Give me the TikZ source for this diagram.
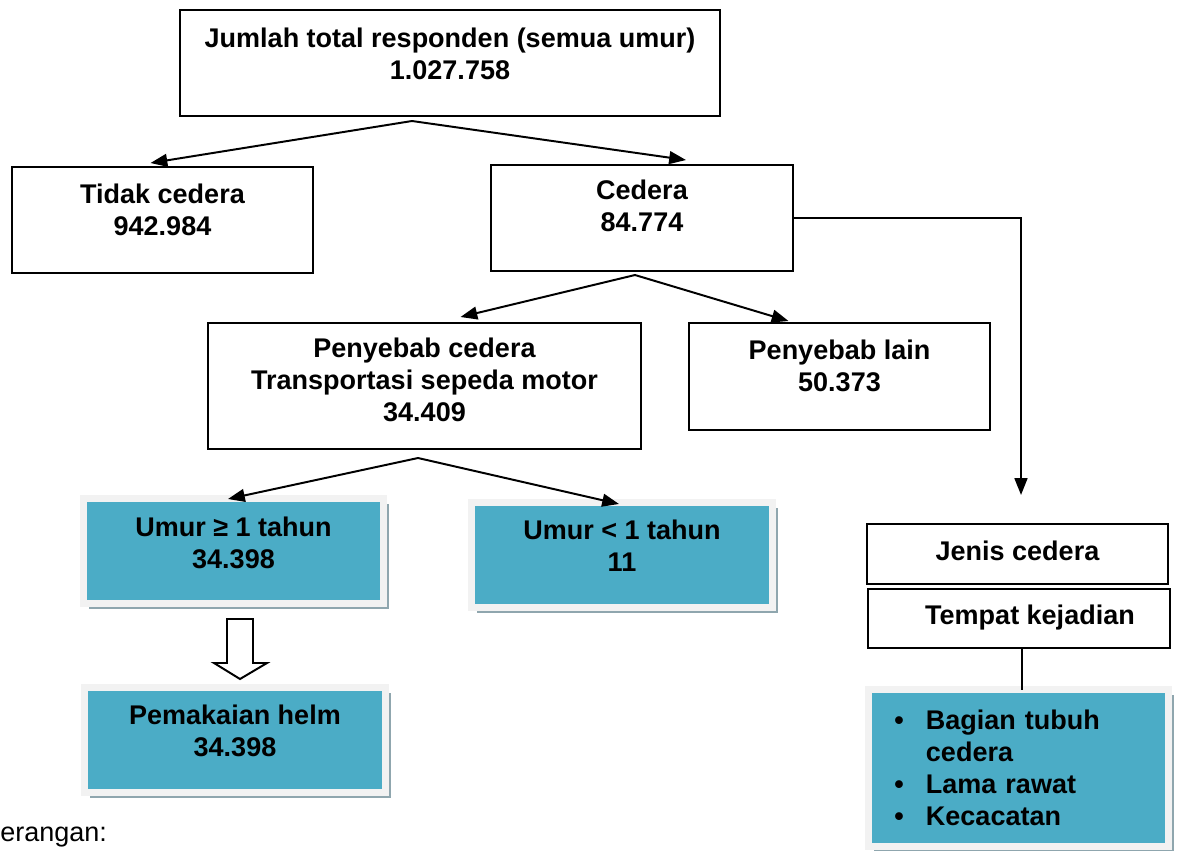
\documentclass[tikz,border=0pt]{standalone}
\usepackage{fontspec}
\setmainfont{Liberation Sans}
\usetikzlibrary{arrows.meta,shadows}
\definecolor{tealfill}{HTML}{4BACC6}
\definecolor{framegray}{HTML}{F2F2F2}
\definecolor{shadowgray}{HTML}{8FA6AE}
\newcommand{\bul}{\makebox[1.35cm][c]{•}}
\begin{document}
\begin{tikzpicture}[x=0.025cm,y=-0.025cm,
    box/.style={draw,line width=1.4pt,fill=white,align=center,inner sep=0pt,
        font=\fontsize{19.2}{22.8}\selectfont\bfseries,
        minimum width=7.525cm,minimum height=2.65cm},
    tealbox/.style={box,fill=tealfill,draw=framegray,line width=0.175cm,
        minimum width=7.5cm,minimum height=2.625cm,
        general shadow={shadow xshift=0.14cm,shadow yshift=-0.14cm,fill=shadowgray}},
    arr/.style={-{Triangle[length=0.42cm,width=0.32cm]},line width=1.4pt}
]
\useasboundingbox (0,0) rectangle (1177,850);

\node[box,minimum width=13.5cm,text depth=0.45cm] (total) at (450,63) {Jumlah total responden (semua umur)\\1.027.758};
\node[box,text depth=0.5cm] (tidak) at (162.5,220) {Tidak cedera\\942.984};
\node[box,minimum width=7.55cm,text depth=0.6cm] (cedera) at (642,218) {Cedera\\84.774};
\node[box,minimum width=10.825cm,minimum height=3.15cm,text depth=0.3cm] (motor) at (424.5,386) {Penyebab cedera\\Transportasi sepeda motor\\34.409};
\node[box,minimum height=2.675cm,text depth=0.525cm] (lain) at (839.5,376.5) {Penyebab lain\\50.373};

\node[tealbox,text depth=0.425cm] (umur1) at (233.5,551) {Umur ≥ 1 tahun\\34.398};
\node[tealbox,minimum width=7.525cm,text depth=0.45cm] (umur0) at (622,555) {Umur < 1 tahun\\11};
\node[tealbox,minimum width=7.525cm,text depth=0.45cm] (helm) at (235,740) {Pemakaian helm\\34.398};

\node[box,minimum height=1.5cm,text depth=0.15cm] (jenis) at (1017.5,554) {Jenis cedera};
\node[box,minimum width=7.55cm,minimum height=1.475cm,text depth=0.175cm] (tempat) at (1019,618.5) {\hspace*{0.55cm}Tempat kejadian};
\node[tealbox,minimum height=3.925cm,text width=7.325cm,align=left] (rinci) at (1018.5,768)
    {\bul Bagian tubuh\\\hspace*{1.35cm}cedera\\\bul Lama rawat\\\bul Kecacatan};

\node[font=\fontsize{19.2}{22.8}\selectfont,anchor=base west,inner sep=0pt] (ket) at (0,841) {erangan:};

% percabangan
\coordinate (s1) at (412,121);
\coordinate (s2) at (635,275);
\coordinate (s3) at (418,458);
\draw[arr] (s1) -- ([shift={(-12,-3)}]tidak.north);
\draw[arr] (s1) -- ([shift={(44,-4)}]cedera.north);
\draw[arr] (s2) -- ([shift={(36,-5)}]motor.north);
\draw[arr] (s2) -- ([shift={(-51,-1)}]lain.north);
\draw[arr] (s3) -- ([shift={(-5.5,4)}]umur1.north);
\draw[arr] (s3) -- ([shift={(-3,5)}]umur0.north);
\draw[arr] (cedera.east) -| ([shift={(3.5,-28)}]jenis.north);
\draw[line width=1.4pt] ([xshift=0.075cm]tempat.south) -- ([xshift=0.0875cm,yshift=-0.1cm]rinci.north);

% panah kosong
\draw[line width=1.4pt,fill=white] (227,619) -- (253,619) -- (253,663) -- (267,663)
    -- (240,679) -- (214,663) -- (227,663) -- cycle;
\end{tikzpicture}
\end{document}
